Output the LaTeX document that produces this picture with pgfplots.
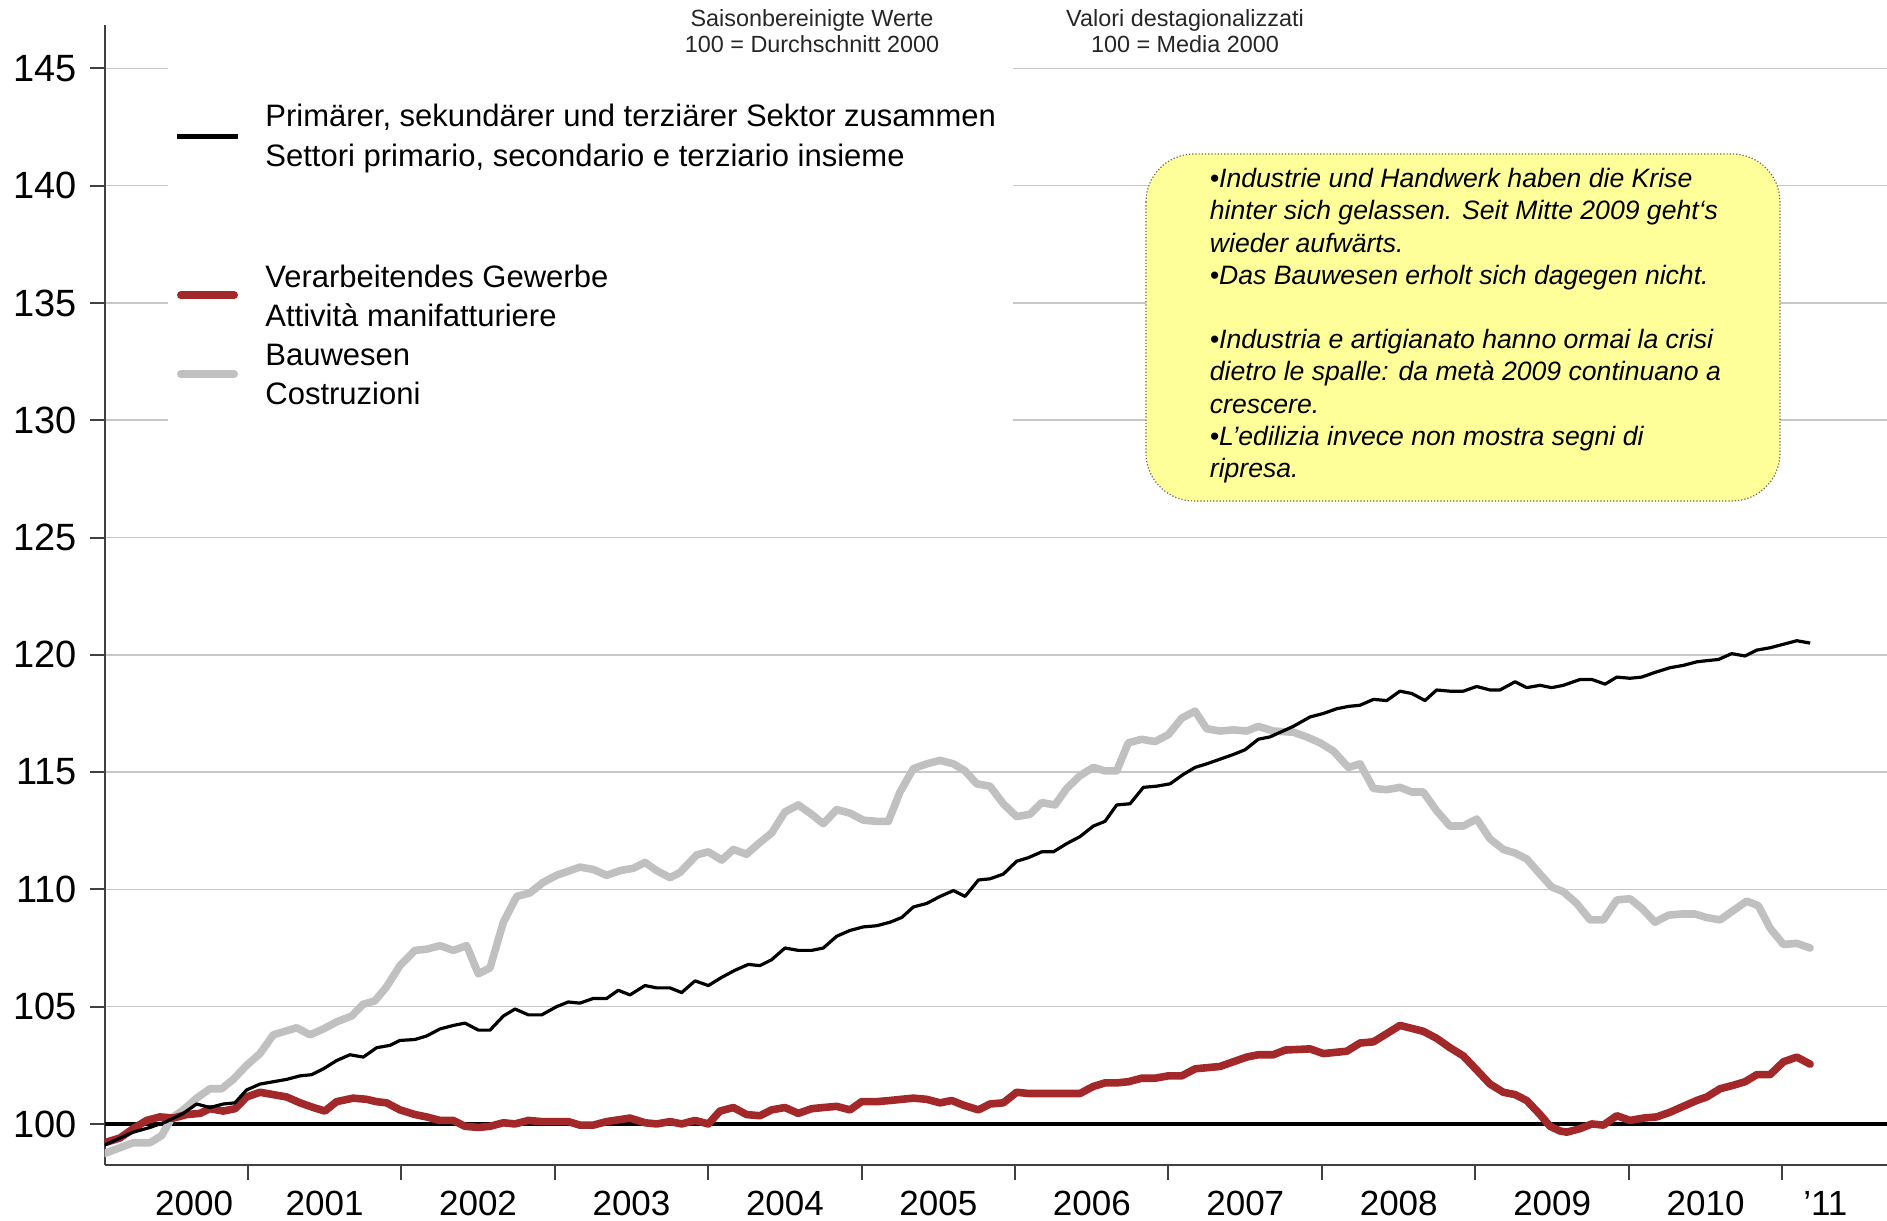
\documentclass[border=0pt]{standalone}
\usepackage{pgfplots}
\usepackage{pgfplotstable}
\pgfplotsset{compat=1.18}
\usepackage{fontspec}
\setmainfont{Liberation Sans}

\definecolor{redline}{RGB}{163,40,42}
\definecolor{grayline}{RGB}{192,192,192}
\definecolor{gridgray}{RGB}{200,200,200}
\definecolor{axisgray}{RGB}{64,64,64}
\definecolor{noteyellow}{RGB}{255,255,153}

% Bauwesen / Costruzioni
\pgfplotstableread{
x y
2000.066 98.74
2000.253 99.2
2000.362 99.2
2000.438 99.5
2000.503 100.25
2000.579 100.6
2000.666 101.1
2000.753 101.5
2000.829 101.5
2000.905 101.9
2000.992 102.5
2001.079 103.0
2001.166 103.8
2001.318 104.1
2001.405 103.8
2001.492 104.05
2001.578 104.35
2001.676 104.6
2001.752 105.1
2001.828 105.25
2001.904 105.85
2001.991 106.75
2002.089 107.4
2002.165 107.45
2002.252 107.6
2002.339 107.4
2002.426 107.6
2002.502 106.4
2002.578 106.65
2002.665 108.6
2002.752 109.7
2002.838 109.85
2002.925 110.3
2003.012 110.6
2003.164 110.95
2003.251 110.85
2003.338 110.6
2003.425 110.8
2003.512 110.9
2003.588 111.15
2003.664 110.8
2003.751 110.5
2003.816 110.72
2003.925 111.47
2004.001 111.6
2004.088 111.25
2004.164 111.7
2004.250 111.5
2004.337 112.0
2004.413 112.4
2004.500 113.3
2004.587 113.6
2004.674 113.2
2004.750 112.8
2004.837 113.4
2004.924 113.25
2005.011 112.95
2005.098 112.9
2005.174 112.9
2005.250 114.15
2005.337 115.15
2005.424 115.35
2005.511 115.5
2005.598 115.35
2005.674 115.05
2005.750 114.5
2005.836 114.4
2005.923 113.65
2006.010 113.1
2006.097 113.2
2006.173 113.7
2006.260 113.6
2006.336 114.3
2006.423 114.85
2006.510 115.2
2006.586 115.05
2006.662 115.05
2006.738 116.25
2006.825 116.4
2006.912 116.3
2006.999 116.6
2007.086 117.3
2007.173 117.6
2007.248 116.85
2007.335 116.75
2007.422 116.8
2007.509 116.75
2007.585 116.95
2007.683 116.75
2007.813 116.7
2007.900 116.5
2007.987 116.25
2008.074 115.9
2008.172 115.2
2008.248 115.35
2008.335 114.3
2008.422 114.25
2008.508 114.35
2008.585 114.15
2008.660 114.15
2008.747 113.35
2008.834 112.7
2008.921 112.7
2009.008 113.0
2009.095 112.15
2009.182 111.7
2009.258 111.55
2009.334 111.3
2009.421 110.65
2009.497 110.1
2009.573 109.9
2009.660 109.4
2009.747 108.7
2009.834 108.7
2009.921 109.55
2010.007 109.6
2010.083 109.2
2010.170 108.6
2010.257 108.9
2010.344 108.95
2010.431 108.95
2010.507 108.8
2010.594 108.7
2010.681 109.1
2010.768 109.5
2010.844 109.3
2010.920 108.35
2011.007 107.65
2011.094 107.7
2011.181 107.5
}\bau

% Verarbeitendes Gewerbe / Attivita manifatturiere
\pgfplotstableread{
x y
2000.066 99.2
2000.166 99.4
2000.253 99.8
2000.340 100.15
2000.427 100.3
2000.514 100.25
2000.601 100.4
2000.688 100.45
2000.753 100.65
2000.840 100.55
2000.916 100.65
2000.992 101.15
2001.079 101.35
2001.166 101.25
2001.253 101.15
2001.340 100.9
2001.427 100.7
2001.502 100.55
2001.578 100.95
2001.687 101.1
2001.774 101.05
2001.839 100.95
2001.904 100.9
2001.991 100.6
2002.089 100.4
2002.165 100.3
2002.252 100.15
2002.339 100.15
2002.415 99.9
2002.502 99.85
2002.578 99.9
2002.665 100.05
2002.741 100.0
2002.828 100.15
2002.915 100.1
2003.012 100.1
2003.088 100.1
2003.164 99.95
2003.251 99.95
2003.338 100.1
2003.490 100.25
2003.588 100.05
2003.664 100.0
2003.751 100.1
2003.827 100.0
2003.914 100.15
2004.001 100.0
2004.077 100.55
2004.164 100.7
2004.250 100.4
2004.337 100.35
2004.413 100.6
2004.500 100.7
2004.587 100.45
2004.674 100.65
2004.750 100.7
2004.837 100.75
2004.924 100.6
2005.000 100.95
2005.098 100.95
2005.185 101.0
2005.337 101.1
2005.424 101.05
2005.511 100.9
2005.587 101.0
2005.663 100.8
2005.761 100.6
2005.836 100.85
2005.923 100.9
2006.010 101.35
2006.086 101.3
2006.249 101.3
2006.423 101.3
2006.510 101.6
2006.586 101.75
2006.662 101.75
2006.738 101.8
2006.825 101.95
2006.912 101.95
2006.999 102.05
2007.086 102.05
2007.173 102.35
2007.335 102.45
2007.422 102.65
2007.509 102.85
2007.585 102.95
2007.683 102.95
2007.759 103.15
2007.922 103.2
2008.009 103.0
2008.161 103.1
2008.248 103.45
2008.335 103.5
2008.422 103.85
2008.508 104.2
2008.660 103.95
2008.747 103.65
2008.834 103.25
2008.921 102.9
2009.008 102.3
2009.095 101.7
2009.182 101.35
2009.258 101.25
2009.334 101.0
2009.421 100.4
2009.486 99.9
2009.551 99.7
2009.595 99.65
2009.682 99.8
2009.758 100.0
2009.834 99.95
2009.921 100.35
2010.007 100.15
2010.094 100.25
2010.181 100.3
2010.268 100.5
2010.355 100.75
2010.442 101.0
2010.507 101.15
2010.594 101.5
2010.681 101.65
2010.757 101.8
2010.833 102.1
2010.920 102.1
2011.007 102.65
2011.094 102.85
2011.181 102.55
}\manif

% Primaerer, sekundaerer und terziaerer Sektor zusammen
\pgfplotstableread{
x y
2000.066 99.1
2000.253 99.65
2000.362 99.85
2000.470 100.1
2000.579 100.45
2000.666 100.85
2000.753 100.7
2000.840 100.85
2000.916 100.9
2000.992 101.45
2001.079 101.7
2001.166 101.8
2001.253 101.9
2001.340 102.05
2001.416 102.1
2001.492 102.35
2001.578 102.7
2001.665 102.95
2001.752 102.85
2001.839 103.25
2001.926 103.35
2001.991 103.56
2002.089 103.6
2002.165 103.75
2002.252 104.05
2002.339 104.2
2002.415 104.3
2002.502 104.0
2002.578 104.0
2002.665 104.6
2002.741 104.9
2002.828 104.65
2002.915 104.65
2003.012 105.0
2003.088 105.2
2003.164 105.15
2003.251 105.35
2003.338 105.35
2003.414 105.7
2003.490 105.5
2003.588 105.9
2003.664 105.8
2003.751 105.8
2003.827 105.6
2003.914 106.1
2004.001 105.9
2004.088 106.25
2004.174 106.55
2004.261 106.8
2004.337 106.75
2004.413 107.0
2004.500 107.5
2004.587 107.4
2004.674 107.4
2004.750 107.5
2004.837 108.0
2004.924 108.25
2005.011 108.4
2005.098 108.45
2005.185 108.6
2005.261 108.8
2005.337 109.25
2005.424 109.4
2005.511 109.7
2005.598 109.95
2005.674 109.7
2005.761 110.4
2005.836 110.45
2005.923 110.65
2006.010 111.2
2006.086 111.35
2006.173 111.6
2006.249 111.6
2006.336 111.95
2006.423 112.25
2006.510 112.7
2006.586 112.9
2006.662 113.6
2006.749 113.65
2006.836 114.35
2006.923 114.4
2007.010 114.5
2007.096 114.9
2007.173 115.2
2007.248 115.35
2007.335 115.55
2007.422 115.75
2007.498 115.95
2007.585 116.4
2007.661 116.5
2007.813 116.95
2007.922 117.35
2008.009 117.5
2008.096 117.7
2008.172 117.8
2008.248 117.85
2008.335 118.1
2008.422 118.05
2008.508 118.45
2008.585 118.35
2008.671 118.05
2008.747 118.5
2008.834 118.45
2008.921 118.45
2009.008 118.65
2009.095 118.5
2009.160 118.5
2009.258 118.85
2009.334 118.6
2009.421 118.7
2009.497 118.6
2009.573 118.7
2009.682 118.95
2009.758 118.95
2009.845 118.75
2009.921 119.05
2010.007 119.0
2010.083 119.05
2010.170 119.25
2010.268 119.45
2010.355 119.55
2010.442 119.7
2010.507 119.75
2010.583 119.8
2010.670 120.05
2010.757 119.95
2010.833 120.2
2010.920 120.3
2011.007 120.45
2011.094 120.6
2011.181 120.5
}\total

\begin{document}
\begin{tikzpicture}
\begin{axis}[
    at={(0,0)}, anchor=south west,
    scale only axis,
    width=891.15pt, height=570pt,
    xmin=2000.067, xmax=2011.682,
    ymin=98.25, ymax=146.85,
    axis x line*=bottom, axis y line*=left,
    axis line style={axisgray, line width=1pt},
    tick style={axisgray, line width=1pt},
    tick align=outside,
    major tick length=7.5pt,
    xtick={2001,...,2011}, xticklabels={},
    extra x ticks={2000.65,2001.5,2002.5,2003.5,2004.5,2005.5,2006.5,2007.5,2008.5,2009.5,2010.5,2011.28},
    extra x tick labels={2000,2001,2002,2003,2004,2005,2006,2007,2008,2009,2010,'11},
    extra x tick style={major tick length=0pt, grid=none,
        tick label style={font=\fontsize{17.5}{17.5}\selectfont, anchor=base, inner sep=0pt, yshift=-25.5pt}},
    ytick={100,105,...,145},
    yticklabel style={font=\fontsize{19}{19}\selectfont, anchor=east, inner sep=0pt, xshift=-6.3pt},
    /pgf/number format/assume math mode=true,
    ymajorgrids,
    grid style={gridgray, line width=0.75pt},
    extra y ticks={100}, extra y tick labels={},
    extra y tick style={major tick length=0pt, grid style={black, line width=1.6pt}},
    line join=round,
]
\addplot[grayline, line width=3.8pt, line cap=round] table[x=x, y=y] {\bau};
\addplot[redline, line width=3.8pt, line cap=round] table[x=x, y=y] {\manif};
\addplot[black, line width=1.6pt] table[x=x, y=y] {\total};
\end{axis}

\begin{scope}[x=0.5pt, y=-0.5pt, shift={(-52.35pt,582.5pt)}]
  % legend panel
  \fill[white] (168,-5) rectangle (1013,433);
  \node[font=\fontsize{11.7}{13.25}\selectfont, align=center, text=black!85] at (812,31)
    {Saisonbereinigte Werte\\100 = Durchschnitt 2000};
  \node[font=\fontsize{11.7}{13.25}\selectfont, align=center, text=black!85] at (1185,31)
    {Valori destagionalizzati\\100 = Media 2000};

  \draw[black, line width=2.5pt] (177,137) -- (238,137);
  \draw[redline, line width=4pt, line cap=round] (181,295) -- (234,295);
  \draw[grayline, line width=4pt, line cap=round] (181,374) -- (234,374);
  \node[anchor=west, align=left, inner sep=0pt, font=\fontsize{15.5}{20}\selectfont] at (265,138)
    {Primärer, sekundärer und terziärer Sektor zusammen\\Settori primario, secondario e terziario insieme};
  \node[anchor=west, align=left, inner sep=0pt, font=\fontsize{15.5}{19.5}\selectfont] at (265,296)
    {Verarbeitendes Gewerbe\\Attività manifatturiere};
  \node[anchor=west, align=left, inner sep=0pt, font=\fontsize{15.5}{19.5}\selectfont] at (265,374)
    {Bauwesen\\Costruzioni};

  % note box
  \draw[densely dotted, black!60, line width=0.6pt, fill=noteyellow, rounded corners=24pt]
    (1146,154) rectangle (1780,501);
  \node[anchor=north west, align=left, inner sep=0pt, font=\itshape\fontsize{13.3}{16.1}\selectfont] at (1209.5,168)
    {•Industrie und Handwerk haben die Krise\\
     hinter sich gelassen. Seit Mitte 2009 geht‘s\\
     wieder aufwärts.\\
     •Das Bauwesen erholt sich dagegen nicht.\\[16.1pt]
     •Industria e artigianato hanno ormai la crisi\\
     dietro le spalle: da metà 2009 continuano a\\
     crescere.\\
     •L’edilizia invece non mostra segni di\\
     ripresa.};

  \pgfresetboundingbox
  \path[use as bounding box] (0,0) rectangle (1887,1221);
\end{scope}
\end{tikzpicture}
\end{document}
